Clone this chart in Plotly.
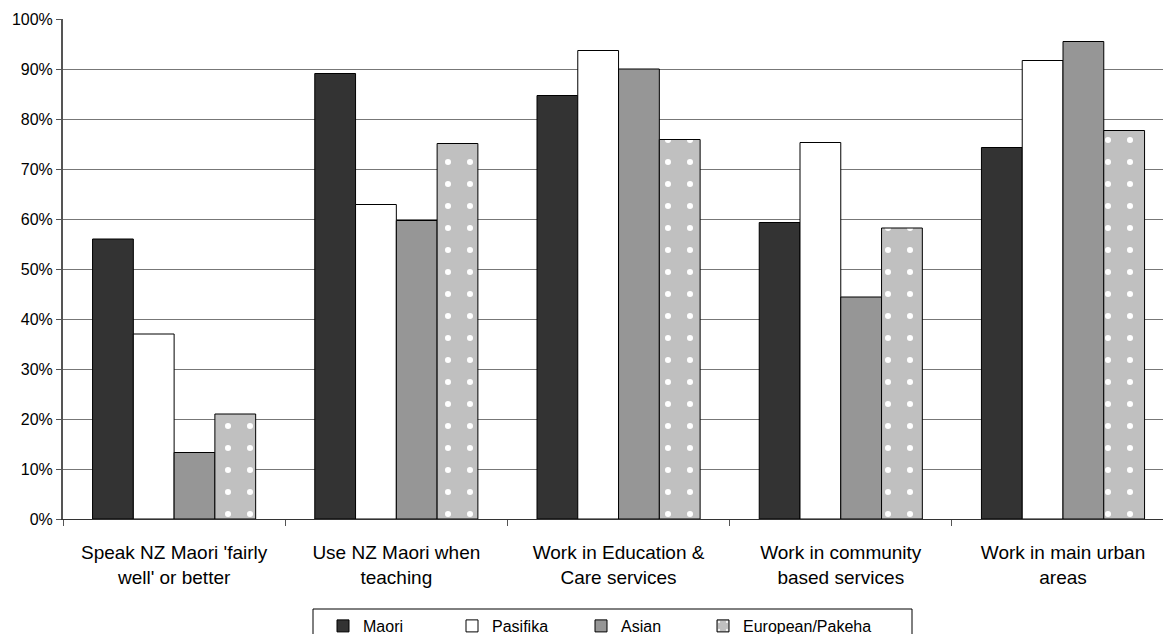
import plotly.graph_objects as go

categories = [
    "Speak NZ Maori 'fairly<br>well' or better",
    "Use NZ Maori when<br>teaching",
    "Work in Education &<br>Care services",
    "Work in community<br>based services",
    "Work in main urban<br>areas",
]
maori = [56.0, 89.1, 84.7, 59.3, 74.3]
pasifika = [37.0, 62.9, 93.7, 75.3, 91.7]
asian = [13.3, 59.7, 90.0, 44.4, 95.5]
european = [21.0, 75.1, 75.9, 58.2, 77.7]

tick_vals = [0, 10, 20, 30, 40, 50, 60, 70, 80, 90, 100]
tick_text = [f"{v}%" for v in tick_vals]

font_family = "Liberation Sans, Arial, sans-serif"

fig = go.Figure()
series = [
    ("Maori", maori, "#333333", None, "legend"),
    ("Pasifika", pasifika, "#ffffff", None, "legend"),
    ("Asian", asian, "#969696", None, "legend"),
    ("European/Pakeha", european, "#c0c0c0",
     dict(shape=".", fgcolor="#ffffff", bgcolor="#c0c0c0", size=22, solidity=0.06, fillmode="replace"),
     "legend2"),
]
for name, vals, color, pattern, leg in series:
    marker = dict(color=color, line=dict(color="#000000", width=1))
    if pattern is not None:
        marker["pattern"] = pattern
    fig.add_trace(go.Bar(name=name, x=categories, y=vals, marker=marker, legend=leg))

legend_common = dict(
    orientation="h",
    xanchor="left",
    y=-0.18, yanchor="top",
    borderwidth=0,
    bgcolor="rgba(0,0,0,0)",
    font=dict(size=16),
    itemwidth=30,
    traceorder="normal",
)

fig.update_layout(
    width=1163,
    height=634,
    barmode="group",
    bargap=0.266,
    bargroupgap=0,
    plot_bgcolor="#ffffff",
    paper_bgcolor="#ffffff",
    margin=dict(l=63, r=0, t=19, b=115, autoexpand=False),
    font=dict(family=font_family, color="#000000"),
    legend=dict(x=(323 - 63) / 1100, entrywidth=84, **legend_common),
    legend2=dict(x=(703 - 63) / 1100, **legend_common),
    shapes=[
        # frame around the legend entries
        dict(type="rect", xref="paper", yref="paper",
             x0=(313 - 63) / 1100, x1=(912 - 63) / 1100, y0=-0.18, y1=-0.32,
             line=dict(color="#000000", width=1), fillcolor="rgba(0,0,0,0)", layer="below"),
    ],
)
fig.update_xaxes(
    range=[-0.5, 4.45],
    showgrid=False,
    showline=True, linecolor="#333333", linewidth=1,
    ticks="outside", tickson="boundaries", ticklen=6, tickcolor="#555555",
    tickfont=dict(size=19, color="#000000"),
    ticklabelstandoff=16,
)
fig.update_yaxes(
    range=[0, 100],
    tickmode="array",
    tickvals=tick_vals,
    ticktext=tick_text,
    showgrid=True, gridcolor="#777777", gridwidth=1,
    showline=True, linecolor="#555555", linewidth=2,
    ticks="outside", ticklen=5, tickcolor="#555555",
    tickfont=dict(size=16, color="#000000"),
    zeroline=False,
)

fig.write_html("out.html")
